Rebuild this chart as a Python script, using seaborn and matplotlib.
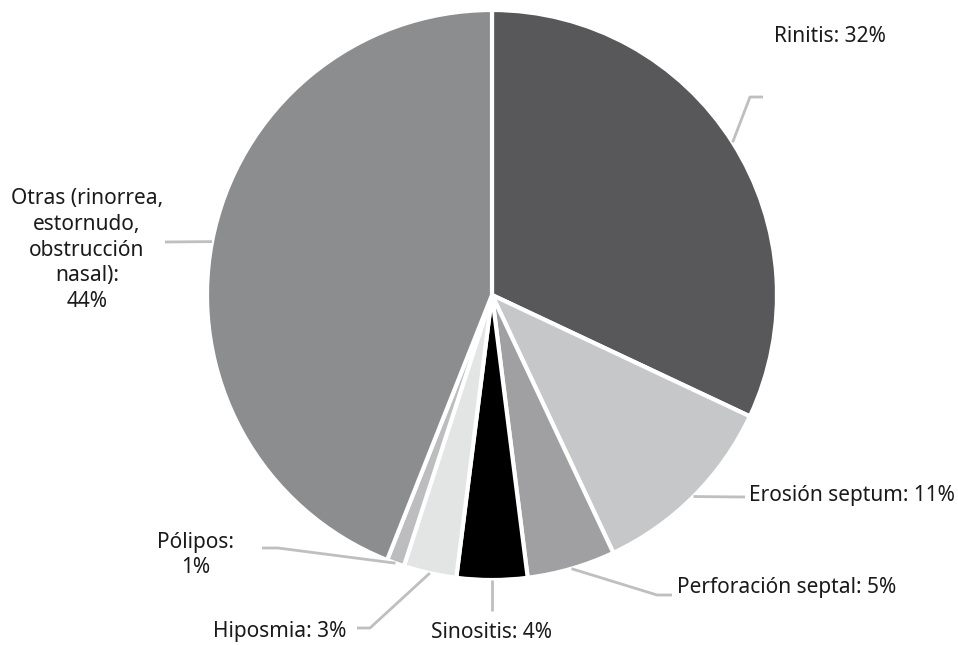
import numpy as np
import seaborn as sns
import matplotlib.pyplot as plt

# data
labels = ["Rinitis", "Erosión septum", "Perforación septal", "Sinositis",
          "Hiposmia", "Pólipos", "Otras (rinorrea, estornudo, obstrucción nasal)"]
values = [32, 11, 5, 4, 3, 1, 44]
colors = ["#58585a", "#c6c7c8", "#a0a0a2", "#000000", "#e3e4e4", "#bdbdbf", "#8c8d8f"]

# label text, position (pixels from top-left), alignment, leader line elbow
texts = ["Rinitis: 32%", "Erosión septum: 11%", "Perforación septal: 5%",
         "Sinositis: 4%", "Hiposmia: 3%", "Pólipos:\n1%",
         "Otras (rinorrea,\nestornudo,\nobstrucción\nnasal):\n44%"]
text_pos = [(830, 37), (749, 496), (677, 587), (492, 632), (346, 632), (196, 555), (87, 250)]
text_ha = ["center", "left", "left", "center", "right", "center", "center"]
elbows = [[(750, 97), (763, 97)], [(745, 497)], [(657, 595), (672, 595)],
          [(492, 611)], [(370, 628), (357, 628)], [(278, 548), (262, 548)], [(165, 242)]]

sns.set_theme(style="white")
plt.rcParams['font.family'] = ['Noto Sans', 'DejaVu Sans']

W, H = 958, 645
fig = plt.figure(figsize=(9.58, 6.45), dpi=100)
ax = fig.add_axes([0, 0, 1, 1])

cx, cy, r = 492, H - 295, 285
wedges, _ = ax.pie(values, colors=colors, startangle=90, counterclock=False,
                   center=(cx, cy), radius=r, frame=True,
                   wedgeprops=dict(edgecolor="white", linewidth=3))
ax.set_xlim(0, W)
ax.set_ylim(0, H)
ax.set_aspect('equal')
ax.axis('off')

for i, w in enumerate(wedges):
    ang = np.deg2rad((w.theta1 + w.theta2) / 2)
    x0, y0 = cx + r * np.cos(ang), cy + r * np.sin(ang)
    xs = [x0] + [p[0] for p in elbows[i]]
    ys = [y0] + [H - p[1] for p in elbows[i]]
    ax.plot(xs, ys, color="#bfbfbf", lw=2, solid_capstyle="butt")
    tx, ty = text_pos[i]
    ax.text(tx, H - ty, texts[i], ha=text_ha[i], va="center", fontsize=15,
            color="#1a1a1a", linespacing=1.3, multialignment="center")

fig.savefig("out.png", dpi=100, facecolor="white")
